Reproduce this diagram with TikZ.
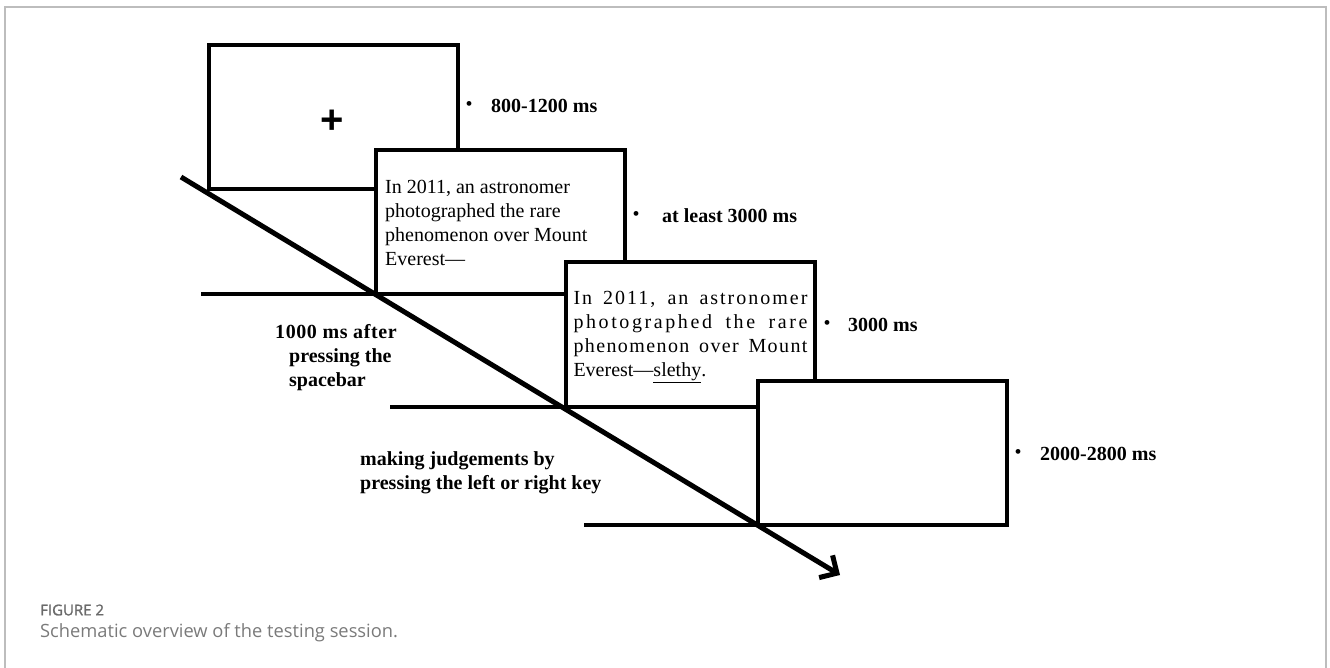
\documentclass[tikz,border=0pt]{standalone}
\usepackage{fontspec}
\setmainfont{Liberation Serif}
\newfontfamily\capfont{Open Sans}
\newfontfamily\capbold[FakeBold=1.4]{Open Sans}
\newfontfamily\plusfont{Liberation Sans}
\usetikzlibrary{arrows.meta}
\definecolor{framegray}{HTML}{BDBDBD}
\definecolor{capgray}{HTML}{6A6A6A}
\definecolor{captext}{HTML}{7A7A7A}
\newcommand{\lsline}[2]{\makebox[234pt][s]{\addfontfeatures{LetterSpace=#1}#2}}
\begin{document}
\begin{tikzpicture}[x=1pt,y=-1pt,
  screen/.style={rectangle, draw, fill=white, line width=4pt,
    minimum width=249pt, minimum height=144pt, inner sep=0pt, outer sep=0pt},
  ground/.style={line width=4pt},
  body/.style={font=\fontsize{20}{24}\selectfont, inner sep=0pt, align=left},
  dur/.style={font=\fontsize{20}{24}\selectfont\bfseries, anchor=west, inner sep=0pt},
  dotmark/.style={font=\fontsize{20}{24}\selectfont, inner sep=0pt},
  note/.style={font=\fontsize{20}{24}\selectfont\bfseries, anchor=west, inner sep=0pt, align=left},
  timeline/.style={line width=5pt, -{Straight Barb[length=13pt, width=26pt]}}
]
\useasboundingbox (0,0) rectangle (1330,668);
% outer frame
\draw[framegray, line width=1.5pt] (5,668) -- (5,7) -- (1326,7) -- (1326,668);

% screens
\node[screen] (b1) at (333.5,117) {};
\node[font=\fontsize{40}{40}\selectfont\bfseries, inner sep=0pt] (plus) at (332,122) {\plusfont +};
\node[screen] (b2) at (500.5,222) {};
\node[screen] (b3) at (690.5,334.5) {};
\node[screen] (b4) at (882.5,452.5) {};

% ground lines
\coordinate (g2) at (201,294);
\coordinate (g3) at (390,406.5);
\coordinate (g4) at (584,524.5);
\draw[ground] (g2) -- (b2.south west);
\draw[ground] (g3) -- (b3.south west);
\draw[ground] (g4) -- (b4.south west);

% texts in screens
\node[body, anchor=west] (t2) at (385,223) {In 2011, an astronomer\\photographed the rare\\phenomenon over Mount\\Everest---};
\node[body] (t3) at (690.5,337) {%
  \lsline{10}{In 2011, an astronomer}\\
  \lsline{13}{photographed the rare}\\
  \lsline{7}{phenomenon over Mount}\\
  \makebox[234pt][l]{Everest---\underline{slethy}.}};

% durations
\node[dotmark] (d1b) at (469,106) {\textbullet};
\node[dur] (d1) at (491,106) {800-1200 ms};
\node[dotmark] (d2b) at (636,216) {\textbullet};
\node[dur] (d2) at (662,216) {at least 3000 ms};
\node[dotmark] (d3b) at (827,325) {\textbullet};
\node[dur] (d3) at (848,325) {3000 ms};
\node[dotmark] (d4b) at (1018,454) {\textbullet};
\node[dur] (d4) at (1040,454) {2000-2800 ms};

% action notes
\node[note] (n1) at (275,358) {\addfontfeatures{LetterSpace=3}1000 ms after\\\hspace*{14pt}pressing the\\\hspace*{14pt}spacebar};
\node[note] (n2) at (360,473) {making judgements by\\pressing the left or right key};

% timeline arrow
\coordinate (ts) at (181,177);
\coordinate (te) at (840,575);
\draw[timeline] (ts) -- (te);

% caption
\node[font=\capbold\fontsize{15}{18}\selectfont, text=capgray, anchor=west, inner sep=0pt] (fig) at (40,610) {FIGURE 2};
\node[font=\capfont\fontsize{18.3}{22}\selectfont, text=captext, anchor=west, inner sep=0pt] (cap) at (40,633) {Schematic overview of the testing session.};
\end{tikzpicture}
\end{document}
